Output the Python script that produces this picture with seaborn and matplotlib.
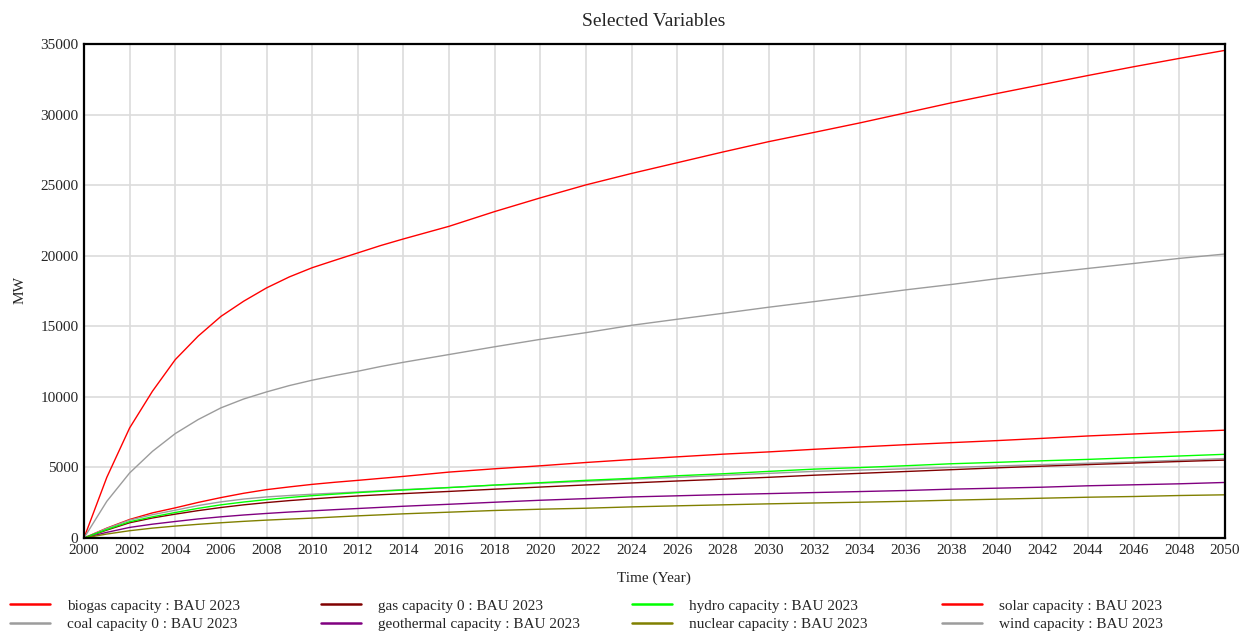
import pandas as pd
import seaborn as sns
import matplotlib.pyplot as plt
from matplotlib.lines import Line2D

# simulation output (MW)
years = [2000, 2001, 2002, 2003, 2004, 2005, 2006, 2007, 2008, 2009,
         2010, 2011, 2012, 2013, 2014, 2016, 2018, 2020, 2022, 2024, 2026, 2028, 2030,
         2032, 2034, 2036, 2038, 2040, 2042, 2044, 2046, 2048, 2050]

biogas = [0, 700, 1314, 1780, 2136, 2520, 2863, 3170, 3427, 3620,
          3800, 3950, 4084, 4225, 4365, 4670, 4905, 5116, 5350, 5560, 5750, 5940, 6100,
          6285, 6450, 6610, 6755, 6900, 7060, 7230, 7370, 7510, 7640]
coal = [0, 680, 1267, 1650, 1970, 2300, 2560, 2760, 2910, 3010,
        3100, 3180, 3260, 3345, 3430, 3580, 3740, 3880, 4020, 4160, 4300, 4440, 4580,
        4720, 4810, 4900, 5000, 5100, 5200, 5300, 5400, 5510, 5630]
gas = [0, 560, 1080, 1420, 1690, 1940, 2160, 2350, 2510, 2650,
       2770, 2880, 2980, 3065, 3145, 3300, 3460, 3610, 3760, 3900, 4040, 4170, 4300,
       4450, 4580, 4710, 4840, 4970, 5090, 5200, 5310, 5420, 5520]
geothermal = [0, 400, 750, 980, 1170, 1350, 1500, 1630, 1740, 1840,
              1925, 2010, 2090, 2170, 2250, 2390, 2535, 2675, 2790, 2910, 2990, 3075, 3145,
              3220, 3290, 3365, 3460, 3530, 3600, 3700, 3770, 3840, 3935]
hydro = [0, 600, 1150, 1500, 1807, 2100, 2350, 2550, 2720, 2870,
         3000, 3110, 3215, 3310, 3400, 3570, 3755, 3920, 4085, 4225, 4410, 4550, 4720,
         4880, 4990, 5120, 5260, 5360, 5470, 5570, 5690, 5810, 5930]
nuclear = [0, 280, 516, 700, 845, 970, 1080, 1180, 1267, 1340,
           1408, 1490, 1570, 1640, 1713, 1830, 1950, 2040, 2110, 2205, 2280, 2350, 2420,
           2480, 2535, 2600, 2680, 2750, 2820, 2890, 2940, 3010, 3060]
solar = [0, 4300, 7800, 10400, 12640, 14300, 15700, 16780, 17720, 18500,
         19150, 19680, 20200, 20720, 21190, 22085, 23130, 24100, 25020, 25830, 26590, 27350, 28080,
         28740, 29410, 30120, 30830, 31490, 32130, 32770, 33390, 33980, 34550]
wind = [0, 2600, 4610, 6140, 7400, 8390, 9220, 9850, 10350, 10800,
        11180, 11510, 11815, 12150, 12450, 13000, 13550, 14075, 14550, 15070, 15500, 15920, 16350,
        16750, 17160, 17580, 17960, 18370, 18740, 19100, 19450, 19810, 20120]

labels = ['biogas capacity : BAU 2023', 'coal capacity 0 : BAU 2023',
          'gas capacity 0 : BAU 2023', 'geothermal capacity : BAU 2023',
          'hydro capacity : BAU 2023', 'nuclear capacity : BAU 2023',
          'solar capacity : BAU 2023', 'wind capacity : BAU 2023']
colors = ['#ff0000', '#9c9c9c', '#800000', '#800080',
          '#00ff00', '#808000', '#ff0000', '#9c9c9c']

df = pd.DataFrame({'Year': years,
                   labels[0]: biogas, labels[1]: coal, labels[2]: gas,
                   labels[3]: geothermal, labels[4]: hydro, labels[5]: nuclear,
                   labels[6]: solar, labels[7]: wind})
long_df = df.melt(id_vars='Year', var_name='var', value_name='MW')

sns.set_style('white')
plt.rcParams['font.family'] = ['Liberation Serif', 'DejaVu Serif']

W, H = 1247, 633
fig = plt.figure(figsize=(W / 100, H / 100), dpi=100)
ax = fig.add_axes([84 / W, 1 - 538 / H, (1225 - 84) / W, (538 - 44) / H])

sns.lineplot(data=long_df, x='Year', y='MW', hue='var',
             palette=dict(zip(labels, colors)), linewidth=1.0,
             legend=False, ax=ax)

ax.set_xlim(2000, 2050)
ax.set_ylim(0, 35000)
ax.set_xticks(range(2000, 2051, 2))
ax.set_yticks(range(0, 35001, 5000))
ax.grid(True, color='#dcdcdc', linewidth=1.2)
ax.set_axisbelow(True)
for sp in ax.spines.values():
    sp.set_color('black')
    sp.set_linewidth(1.6)
ax.tick_params(length=0, labelsize=11, pad=4)
ax.set_xlabel('')
ax.set_ylabel('')

fig.text(654 / W, 1 - 21 / H, 'Selected Variables', ha='center', va='center', fontsize=14)
fig.text(654 / W, 1 - 578 / H, 'Time (Year)', ha='center', va='center', fontsize=11)
fig.text(20 / W, 1 - 290 / H, 'MW', ha='center', va='center', rotation=90, fontsize=11)

# legend: 4 columns of 2 rows
col_x = [10, 321, 632, 942]
for i, x0 in enumerate(col_x):
    handles = [Line2D([], [], color=colors[2 * i + k], linewidth=1.8) for k in range(2)]
    fig.legend(handles, labels[2 * i:2 * i + 2], loc='upper left',
               bbox_to_anchor=(x0 / W, 1 - 599 / H), frameon=False,
               fontsize=11, handlelength=2.6, handletextpad=1.1,
               borderpad=0, borderaxespad=0, labelspacing=0.33)

fig.savefig('out.png', dpi=100)
